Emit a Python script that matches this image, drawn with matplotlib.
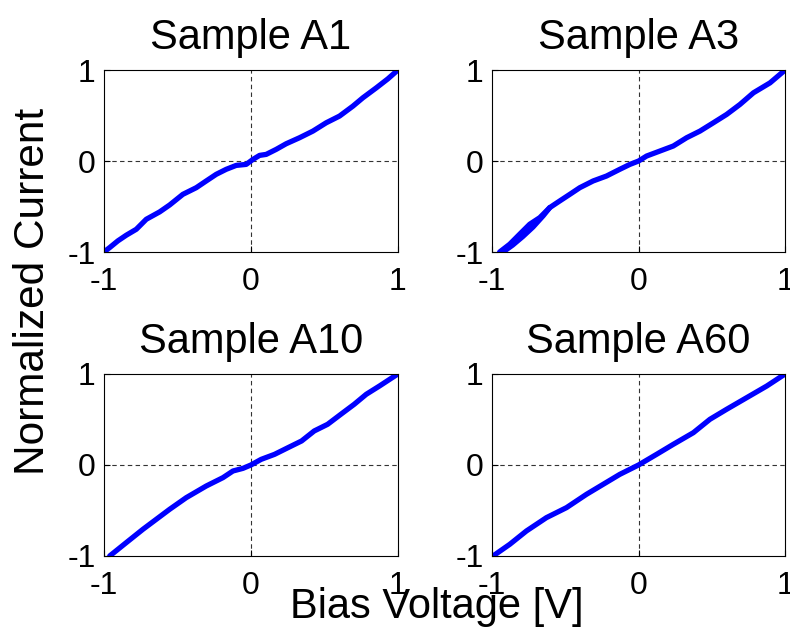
import numpy as np
import matplotlib
matplotlib.use("Agg")
import matplotlib.pyplot as plt

plt.rcParams['font.family'] = ['Liberation Sans', 'DejaVu Sans']

# normalized I-V curves
titles = ["Sample A1", "Sample A3", "Sample A10", "Sample A60"]

a1_v = [-1.0, -0.961, -0.905, -0.848, -0.780, -0.712, -0.621, -0.553, -0.463, -0.372,
        -0.304, -0.236, -0.168, -0.100, -0.032, 0.014, 0.059, 0.104, 0.172, 0.240,
        0.331, 0.422, 0.512, 0.603, 0.694, 0.762, 0.853, 0.932, 1.0]
a1_i = [-1.0, -0.951, -0.877, -0.815, -0.750, -0.640, -0.559, -0.483, -0.366, -0.293,
        -0.219, -0.146, -0.091, -0.048, -0.037, 0.018, 0.062, 0.073, 0.128, 0.190,
        0.256, 0.329, 0.420, 0.494, 0.603, 0.695, 0.804, 0.903, 1.0]

a3_v = [-0.948, -0.879, -0.811, -0.743, -0.674, -0.606, -0.538, -0.469, -0.401, -0.310,
        -0.219, -0.128, -0.059, 0.0, 0.055, 0.146, 0.237, 0.328, 0.419, 0.510,
        0.601, 0.692, 0.784, 0.897, 1.0]
a3_i = [-1.0, -0.914, -0.804, -0.695, -0.622, -0.512, -0.439, -0.366, -0.293, -0.219,
        -0.165, -0.091, -0.037, 0.0, 0.055, 0.110, 0.165, 0.256, 0.329, 0.420,
        0.512, 0.622, 0.750, 0.859, 1.0]
# second sweep branch of A3 (slight hysteresis near -1), merging back in
a3_v2 = [-0.925, -0.86, -0.79, -0.72, -0.65, -0.606]
a3_i2 = [-1.0, -0.925, -0.83, -0.725, -0.60, -0.512]

a10_v = [-0.961, -0.848, -0.735, -0.644, -0.553, -0.440, -0.304, -0.190, -0.122, -0.054,
         0.0, 0.070, 0.161, 0.252, 0.345, 0.431, 0.522, 0.612, 0.703, 0.785, 0.875, 1.0]
a10_i = [-1.0, -0.853, -0.707, -0.597, -0.487, -0.359, -0.231, -0.139, -0.066, -0.037,
         0.0, 0.062, 0.117, 0.190, 0.264, 0.374, 0.447, 0.557, 0.667, 0.777, 0.868, 1.0]

a60_v = [-0.993, -0.879, -0.765, -0.629, -0.492, -0.355, -0.241, -0.128, 0.0, 0.123,
         0.237, 0.374, 0.487, 0.601, 0.738, 0.875, 1.0]
a60_i = [-1.0, -0.872, -0.725, -0.579, -0.469, -0.322, -0.212, -0.103, 0.0, 0.117,
         0.227, 0.355, 0.502, 0.612, 0.740, 0.868, 1.0]

curves = [[(a1_v, a1_i)],
          [(a3_v, a3_i), (a3_v2, a3_i2)],
          [(a10_v, a10_i)],
          [(a60_v, a60_i)]]

ticks = [-1, 0, 1]
tick_labels = ["-1", "0", "1"]

fig = plt.figure(figsize=(7.9, 6.31), dpi=100)
positions = [[0.1316, 0.6006, 0.372, 0.2884],
             [0.6228, 0.6006, 0.371, 0.2884],
             [0.1316, 0.1189, 0.372, 0.2884],
             [0.6228, 0.1189, 0.371, 0.2884]]

for pos, title, sweeps in zip(positions, titles, curves):
    ax = fig.add_axes(pos)
    for v, i in sweeps:
        ax.plot(v, i, color='#0000ff', lw=3.8, solid_capstyle='round',
                solid_joinstyle='round')
    ax.set_xlim(-1, 1)
    ax.set_ylim(-1, 1)
    ax.set_xticks(ticks)
    ax.set_yticks(ticks)
    ax.set_xticklabels(tick_labels)
    ax.set_yticklabels(tick_labels)
    ax.axhline(0, color='#333333', ls=(0, (4, 3)), lw=0.8, zorder=0)
    ax.axvline(0, color='#333333', ls=(0, (4, 3)), lw=0.8, zorder=0)
    ax.tick_params(direction='in', length=4, labelsize=23, width=0.8)
    ax.tick_params(axis='x', pad=11)
    ax.tick_params(axis='y', pad=6)
    for s in ax.spines.values():
        s.set_linewidth(0.8)
    ax.set_title(title, fontsize=30, pad=15)

fig.text(0.5525, 0.0206, "Bias Voltage [V]", fontsize=30, ha='center', va='baseline')
fig.text(0.042, 0.538, "Normalized Current", fontsize=30.5, ha='center', va='center',
         rotation=90)

fig.savefig("out.png", dpi=100, facecolor='white')
